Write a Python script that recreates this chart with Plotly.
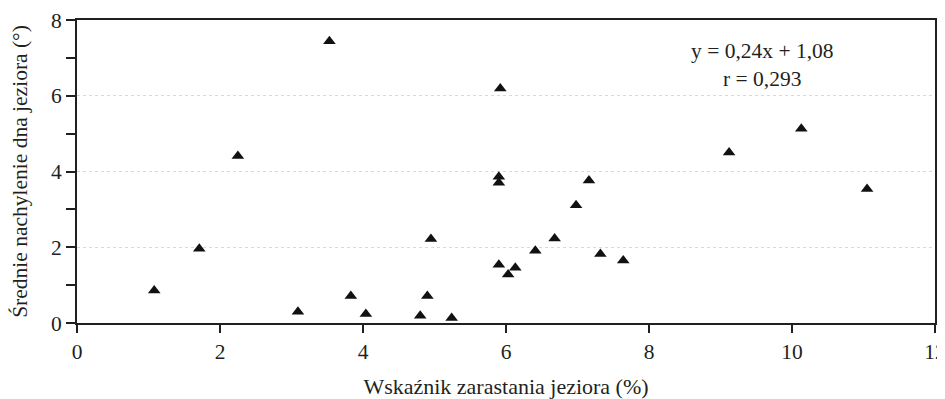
import plotly.graph_objects as go

# Data
x_vals = [1.08, 1.71, 2.25, 3.09, 3.53, 3.83, 4.04, 4.80, 4.90, 4.95, 5.24,
          5.90, 5.90, 5.90, 5.92, 6.03, 6.13, 6.41, 6.68, 6.98, 7.16, 7.32,
          7.64, 9.12, 10.13, 11.05]
y_vals = [0.86, 1.96, 4.41, 0.30, 7.44, 0.71, 0.24, 0.19, 0.71, 2.22, 0.13,
          1.54, 3.70, 3.86, 6.19, 1.28, 1.46, 1.91, 2.23, 3.11, 3.76, 1.82,
          1.65, 4.50, 5.13, 3.54]

x_ticks = [0, 2, 4, 6, 8, 10, 12]
y_ticks = [0, 2, 4, 6, 8]

x_title = "Wskaźnik zarastania jeziora (%)"
y_title = "Średnie nachylenie dna jeziora (°)"
eq_text = "y = 0,24x + 1,08<br>r = 0,293"

axis_color = "#231f20"
font_family = "Liberation Serif"
fs = 21.5

fig = go.Figure()
fig.add_trace(go.Scatter(
    x=x_vals, y=y_vals, mode="markers",
    marker=dict(symbol="triangle-up", size=11, color="#111111"),
    showlegend=False, hoverinfo="x+y",
))

fig.add_annotation(
    x=9.59, y=6.82, xref="x", yref="y", text=eq_text, showarrow=False,
    font=dict(family=font_family, size=fs, color="#231f20"), align="center",
)

fig.update_layout(
    width=945, height=391,
    margin=dict(l=69, r=18, t=12, b=76),
    paper_bgcolor="white", plot_bgcolor="white",
    font=dict(family=font_family, size=fs, color="#231f20"),
)

fig.update_xaxes(
    range=[0, 12], tickvals=x_ticks, ticktext=[str(v) for v in x_ticks],
    showline=True, linecolor=axis_color, linewidth=2, mirror=True,
    ticks="outside", ticklen=8, tickwidth=2, tickcolor=axis_color,
    showgrid=False, zeroline=False, automargin=False,
    ticklabeloverflow="allow",
    title=dict(text=x_title, font=dict(family=font_family, size=22), standoff=21),
    tickfont=dict(family=font_family, size=fs),
)
fig.update_yaxes(
    range=[0, 8], tickvals=y_ticks, ticktext=[str(v) for v in y_ticks],
    showline=True, linecolor=axis_color, linewidth=2, mirror=True,
    ticks="outside", ticklen=9, tickwidth=2, tickcolor=axis_color,
    showgrid=True, gridcolor="#d9d9d9", gridwidth=1, griddash="dot",
    zeroline=False, automargin=False,
    minor=dict(ticks="outside", dtick=1, tick0=0, ticklen=9, tickwidth=2,
               tickcolor=axis_color, showgrid=False),
    title=dict(text=y_title, font=dict(family=font_family, size=fs), standoff=20),
    tickfont=dict(family=font_family, size=fs),
)

fig.write_html("out.html")
